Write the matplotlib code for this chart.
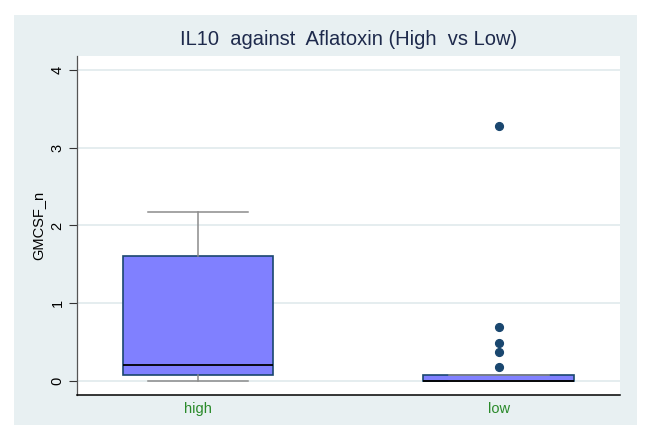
import matplotlib
matplotlib.use("Agg")
import matplotlib.pyplot as plt
from matplotlib.patches import Rectangle

plt.rcParams["font.family"] = ["Liberation Sans", "DejaVu Sans"]

# Box-plot summary per aflatoxin group
groups = ["high", "low"]
whisker_low = [0.0, 0.0]
q1 = [0.077, 0.0]
median = [0.206, 0.0]
q3 = [1.608, 0.073]
whisker_high = [2.178, 0.073]
outliers = [[], [3.284, 0.698, 0.485, 0.377, 0.184]]

y_ticks = [0, 1, 2, 3, 4]

BG = "#E8F0F2"
GRID = "#E3ECEE"
NAVY = "#1A476F"

fig = plt.figure(figsize=(6.49, 4.25), dpi=100)
fig.patch.set_facecolor("white")
fig.patches.append(Rectangle((14 / 649, 0), (637 - 14) / 649, 1 - 15 / 425,
                             transform=fig.transFigure, facecolor=BG,
                             edgecolor="none", zorder=-10))

ax = fig.add_axes([77 / 649, 1 - 395 / 425, (620 - 77) / 649, (395 - 56) / 425])
ax.set_facecolor("white")

stats = []
for i, g in enumerate(groups):
    stats.append(dict(label=g, whislo=whisker_low[i], q1=q1[i], med=median[i],
                      q3=q3[i], whishi=whisker_high[i], fliers=outliers[i]))

ax.bxp(stats, positions=[1, 2], widths=0.5, patch_artist=True,
       showfliers=True,
       boxprops=dict(facecolor="#8080FF", edgecolor=NAVY, linewidth=1.2),
       medianprops=dict(color="black", linewidth=1.3),
       whiskerprops=dict(color="#8C8C8C", linewidth=1.1),
       capprops=dict(color="#8C8C8C", linewidth=1.1),
       capwidths=0.333,
       flierprops=dict(marker="o", markerfacecolor=NAVY, markeredgecolor=NAVY,
                       markersize=5.6, linestyle="none"))

ax.set_xlim(0.597, 2.404)
ax.set_ylim(-0.18, 4.18)
ax.set_yticks(y_ticks)
ax.set_yticklabels([str(t) for t in y_ticks], rotation=90, va="center")
ax.yaxis.grid(True, color=GRID, linewidth=1.3)
ax.set_axisbelow(True)

ax.tick_params(axis="y", length=6, width=0.8, color="#333333", pad=3,
               labelsize=10.5, labelcolor="black")
ax.tick_params(axis="x", length=0, pad=5, labelsize=10.5, labelcolor="#2A8A2A")

for side in ("top", "right"):
    ax.spines[side].set_visible(False)
ax.spines["left"].set_color("#555555")
ax.spines["left"].set_linewidth(0.9)
ax.spines["bottom"].set_color("black")
ax.spines["bottom"].set_linewidth(1.1)

ax.set_ylabel("GMCSF_n", fontsize=10.5, labelpad=4)
ax.set_title("IL10  against  Aflatoxin (High  vs Low)", fontsize=14.5,
             color="#1E2A4C", pad=8)

fig.savefig("out.png", dpi=100)
